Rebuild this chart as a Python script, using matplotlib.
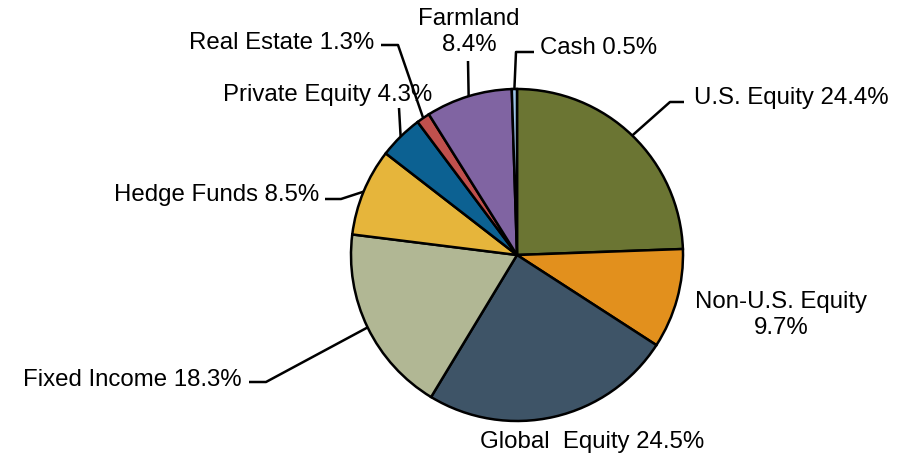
import numpy as np
import matplotlib
matplotlib.use("Agg")
import matplotlib.pyplot as plt

plt.rcParams["font.family"] = ["Liberation Sans", "DejaVu Sans"]

categories = ["U.S. Equity", "Non-U.S. Equity", "Global  Equity", "Fixed Income",
              "Hedge Funds", "Private Equity", "Real Estate", "Farmland", "Cash"]
weights = [24.4, 9.7, 24.5, 18.3, 8.5, 4.3, 1.3, 8.4, 0.5]
colors = ["#6B7533", "#E2901D", "#3E5467", "#B1B794", "#E6B53B",
          "#0C6192", "#C0504D", "#8064A2", "#9DC3E6"]

W, H = 900, 458
CX, CY, R = 517, 255, 166   # pie centre / radius in pixels (y down)


def Y(y):
    # pixel row -> data y (axes run in pixels, y up)
    return H - y


def edge_point(i):
    # point on the rim at the middle of wedge i (clockwise from 12 o'clock)
    start = sum(weights[:i])
    mid = (start + weights[i] / 2) / sum(weights) * 2 * np.pi
    return CX + R * np.sin(mid), CY - R * np.cos(mid)


fig = plt.figure(figsize=(W / 100, H / 100), dpi=100)
ax = fig.add_axes([0, 0, 1, 1])

ax.pie(weights, colors=colors, startangle=90, counterclock=False,
       center=(CX, Y(CY)), radius=R,
       wedgeprops=dict(edgecolor="black", linewidth=1.8))
ax.set_xlim(0, W)
ax.set_ylim(0, H)
ax.set_aspect("equal")
ax.axis("off")

fs = 17.3

# (label index, text x, text y, ha, leader elbow points from text side)
labels = [
    (0, 694, 98, "left", [(684, 102), (670, 102)]),
    (1, 781, 315, "center", None),
    (2, 592, 442, "center", None),
    (3, 242, 380, "right", [(249, 382), (266, 382)]),
    (4, 319, 195, "right", [(325, 199), (341, 199)]),
    (5, 432, 95, "right", [(399, 108)]),
    (6, 374, 43, "right", [(381, 45), (398, 45)]),
    (7, 469, 32, "center", [(468, 61)]),
    (8, 540, 48, "left", [(534, 52), (516, 52)]),
]

for i, tx, ty, ha, pts in labels:
    name = categories[i]
    val = f"{weights[i]:.1f}%"
    if i in (1, 7):
        txt = f"{name}\n{val}"
    else:
        txt = f"{name} {val}"
    ax.text(tx, Y(ty), txt, ha=ha, va="center", fontsize=fs,
            linespacing=1.2, color="black")
    if pts:
        ex, ey = edge_point(i)
        xs = [p[0] for p in pts] + [ex]
        ys = [Y(p[1]) for p in pts] + [Y(ey)]
        ax.plot(xs, ys, color="black", linewidth=1.8, solid_capstyle="butt")

fig.savefig("out.png", dpi=100)
